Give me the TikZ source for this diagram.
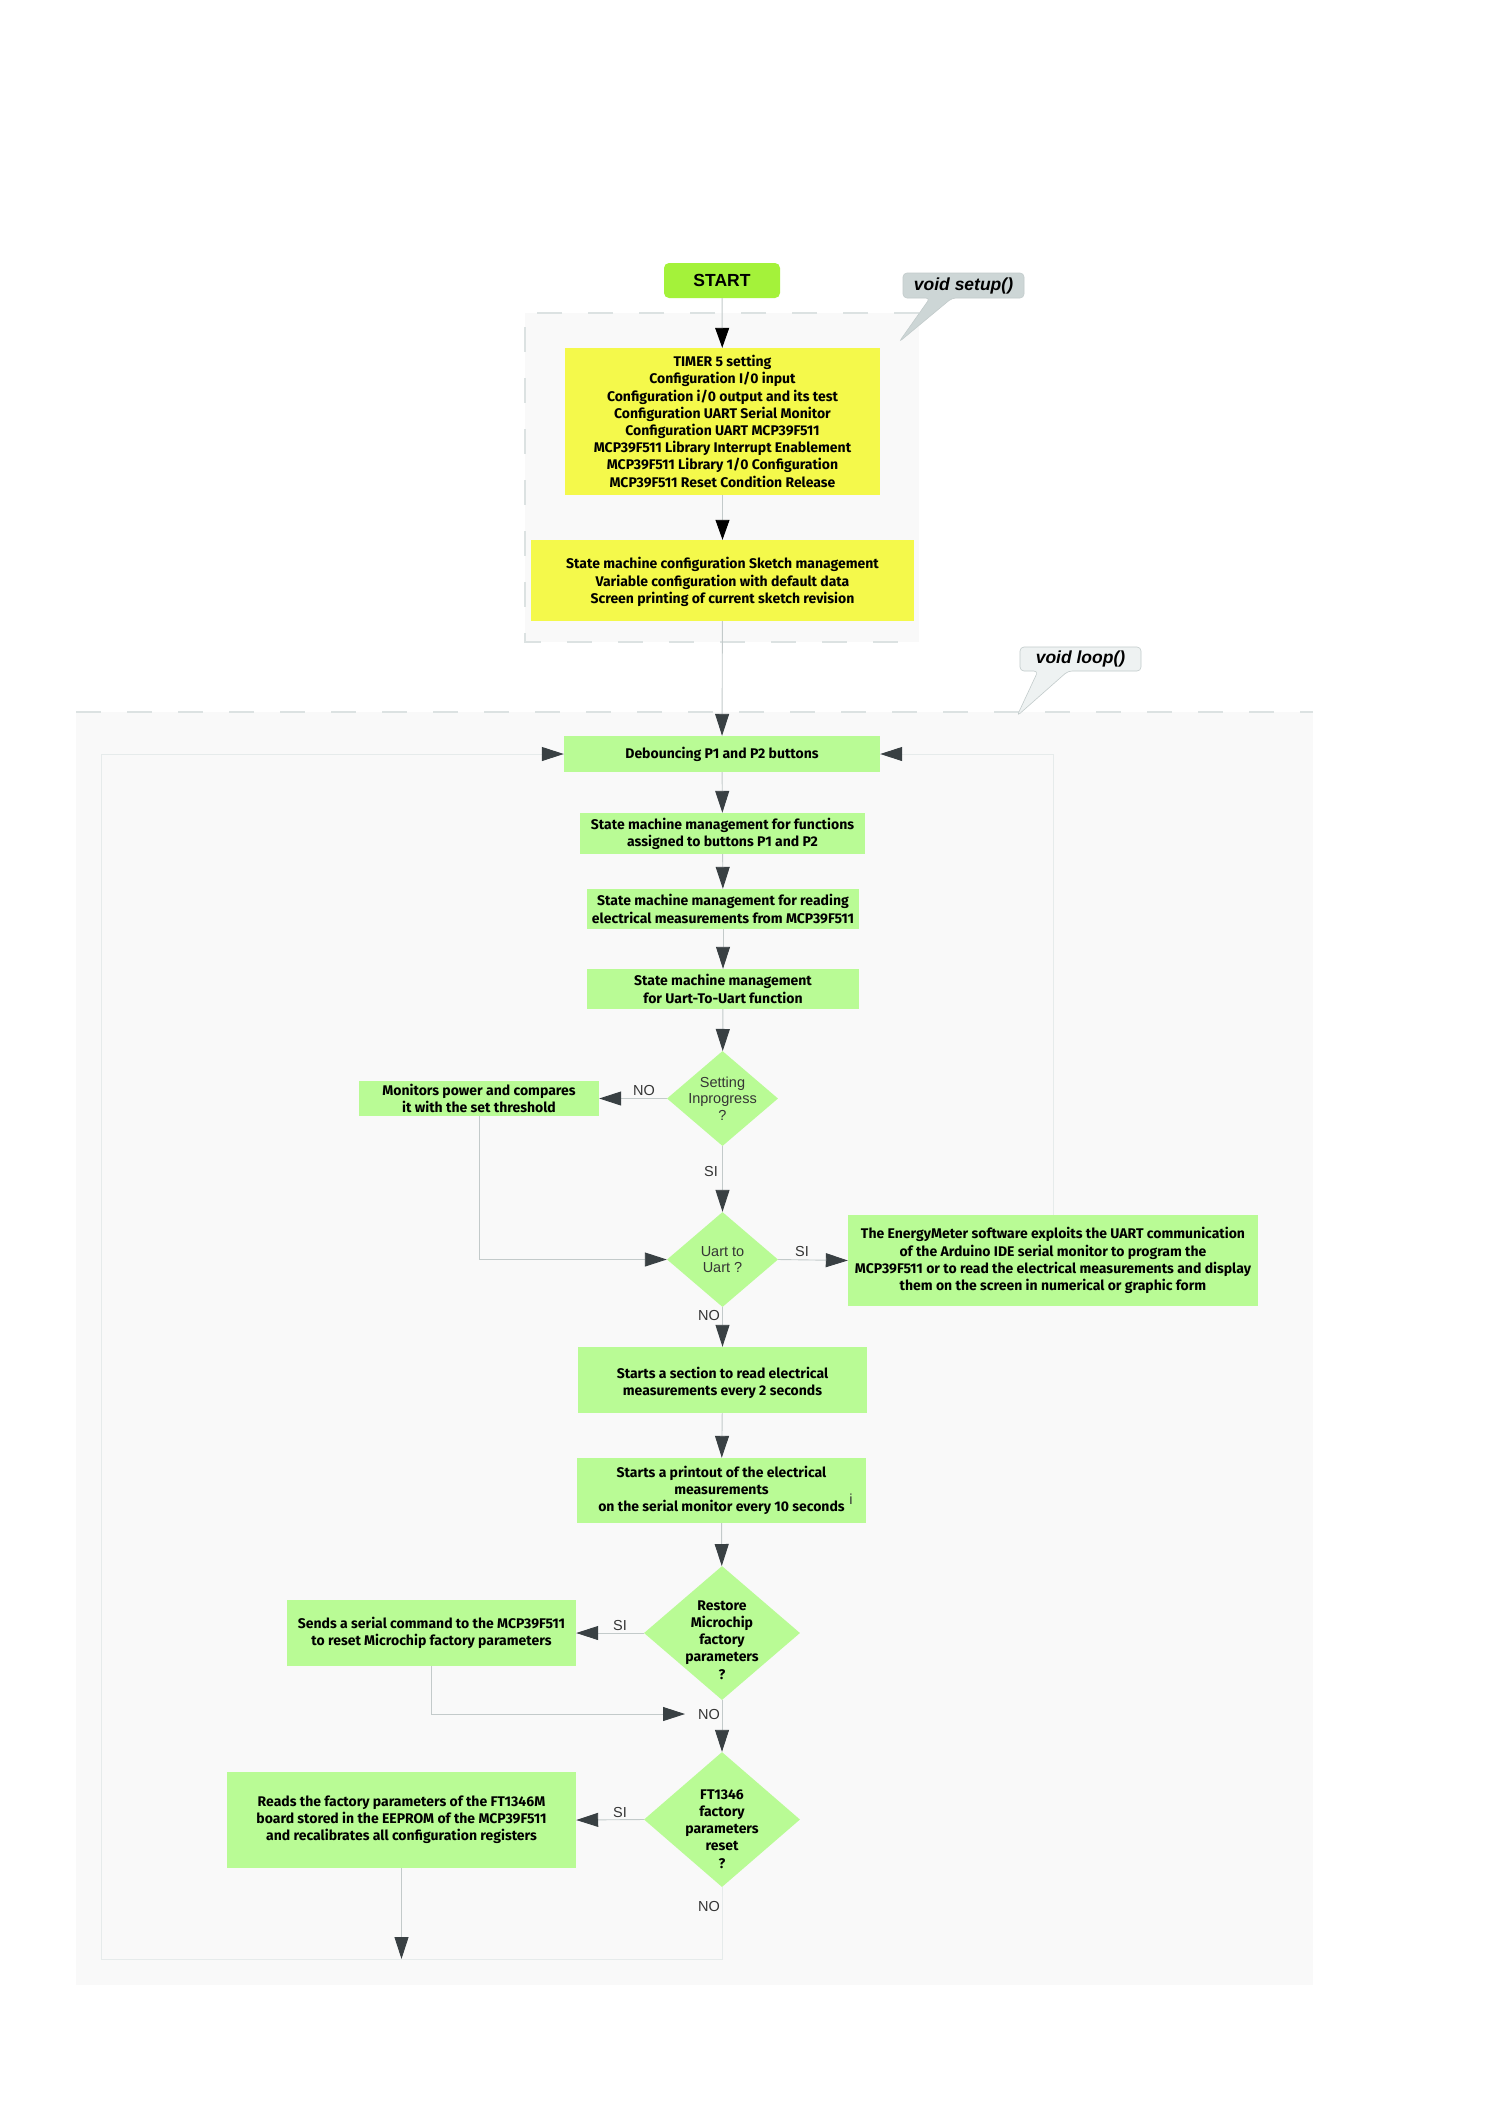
\documentclass[tikz,border=0pt]{standalone}
\usepackage{fontspec}
\setmainfont{Liberation Sans}
\newfontfamily\boxfam{Fira Sans}
\usetikzlibrary{arrows.meta,shapes.geometric}
\definecolor{startgreen}{HTML}{A4F23A}
\definecolor{boxyellow}{HTML}{F4F94B}
\definecolor{boxgreen}{HTML}{B9FB95}
\definecolor{contfill}{HTML}{F9F9F9}
\definecolor{dashgrey}{HTML}{DCE2E2}
\definecolor{connline}{HTML}{C3CACA}
\definecolor{loopline}{HTML}{E6EBEB}
\definecolor{tipdark}{HTML}{394043}
\definecolor{labgrey}{HTML}{353535}
\definecolor{calloutA}{HTML}{CDD6D6}
\definecolor{calloutB}{HTML}{EEF2F2}
\definecolor{calloutedge}{HTML}{C2CBCB}
\newcommand{\boxtext}{\boxfam\bfseries\fontsize{14}{17.2}\selectfont}
\newcommand{\labtext}{\fontsize{14.5}{16.5}\selectfont\color{labgrey}}
\tikzset{
  rbox/.style={rectangle, inner sep=0pt, align=center, font=\boxtext, text=black},
  gbox/.style={rbox, fill=boxgreen},
  ybox/.style={rbox, fill=boxyellow},
  decbox/.style={diamond, fill=boxgreen, inner sep=0pt},
  dectext/.style={inner sep=0pt, align=center, font=\boxtext},
  declab/.style={inner sep=0pt, align=center, font=\labtext},
  edgelab/.style={inner sep=0pt, font=\labtext},
  conn/.style={draw=connline, line width=0.9pt, -{Triangle[width=14pt,length=22pt,color=tipdark]}},
  sconn/.style={draw=connline, line width=0.9pt, -{Triangle[width=14pt,length=20pt,color=black]}},
  loopconn/.style={draw=loopline, line width=1pt},
}
\begin{document}
\begin{tikzpicture}[x=1pt,y=-1pt]
\useasboundingbox[fill=white] (0,0) rectangle (1500,2122);
% containers
\fill[contfill] (525,313) rectangle (919,642);
\draw[dashgrey, line width=1.2pt, dash pattern=on 25pt off 26pt] (919,313) -- (525,313) -- (525,642) -- (919,642);
\fill[contfill] (76,712) rectangle (1313,1985);
\draw[dashgrey, line width=1.2pt, dash pattern=on 25pt off 26pt] (76,712) -- (1313,712);
% callouts
\filldraw[fill=calloutA, draw=calloutedge, line width=0.6pt, rounded corners=4pt]
  (903,273) -- (1024,273) -- (1024,298) -- (952,298) -- (899,342) -- (930,298) -- (903,298) -- cycle;
\node[inner sep=0pt, font=\bfseries\itshape\fontsize{17.5}{20}\selectfont] (setupT) at (963.5,285.5) {void setup()};
\filldraw[fill=calloutB, draw=calloutedge, line width=0.6pt, rounded corners=4pt]
  (1020,647) -- (1141,647) -- (1141,671) -- (1068,671) -- (1017,716) -- (1038,671) -- (1020,671) -- cycle;
\node[inner sep=0pt, font=\bfseries\itshape\fontsize{17.5}{20}\selectfont] (loopT) at (1080.5,659) {void loop()};
% nodes
\node[rbox, fill=startgreen, rounded corners=5pt, minimum width=116, minimum height=35, font=\bfseries\fontsize{17.5}{20}\selectfont] (start) at (722,280.5) {START};
\node[ybox, minimum width=315, minimum height=147] (timer) at (722.5,421.5) {TIMER 5 setting\\Configuration I/0 input\\Configuration i/0 output and its test\\Configuration UART Serial Monitor\\Configuration UART MCP39F511\\MCP39F511 Library Interrupt Enablement\\MCP39F511 Library 1/0 Configuration\\MCP39F511 Reset Condition Release};
\node[ybox, minimum width=383, minimum height=81, text depth=-4pt] (cfg) at (722.5,580.5) {State machine configuration Sketch management\\Variable configuration with default data\\Screen printing of current sketch revision};
\node[gbox, minimum width=316, minimum height=36] (deb) at (722,754) {Debouncing P1 and P2 buttons};
\node[gbox, minimum width=285, minimum height=41] (b2) at (722.5,833.5) {State machine management for functions\\assigned to buttons P1 and P2};
\node[gbox, minimum width=272, minimum height=40] (b3) at (723,909) {State machine management for reading\\electrical measurements from MCP39F511};
\node[gbox, minimum width=272, minimum height=40] (b4) at (723,989) {State machine management\\for Uart-To-Uart function};
\node[decbox, minimum width=111, minimum height=95] (setting) at (722.5,1098.5) {};
\node[declab] (settingT) at (setting.center) {Setting\\Inprogress\\?};
\node[gbox, minimum width=240, minimum height=35] (mon) at (479,1098.5) {Monitors power and compares\\it with the set threshold};
\node[decbox, minimum width=111, minimum height=95] (uart) at (722.5,1259.5) {};
\node[declab] (uartT) at (uart.center) {Uart to\\Uart ?};
\node[gbox, minimum width=410, minimum height=91] (em) at (1053,1260.5) {The EnergyMeter software exploits the UART communication\\of the Arduino IDE serial monitor to program the\\MCP39F511 or to read the electrical measurements and display\\them on the screen in numerical or graphic form};
\node[gbox, minimum width=289, minimum height=66] (sec) at (722.5,1380) {};
\node[dectext] (secT) at (722.5,1382.5) {Starts a section to read electrical\\measurements every 2 seconds};
\node[gbox, minimum width=289, minimum height=65] (prt) at (721.5,1490.5) {Starts a printout of the electrical\\measurements\\on the serial monitor every 10 seconds};
\node[edgelab] (prtI) at (851,1499) {i};
\node[decbox, minimum width=156, minimum height=134] (restore) at (722,1633) {};
\node[dectext] (restoreT) at (722,1640) {Restore\\Microchip\\factory\\parameters\\?};
\node[gbox, minimum width=289, minimum height=66] (sends) at (431.5,1633) {Sends a serial command to the MCP39F511\\to reset Microchip factory parameters};
\node[decbox, minimum width=156, minimum height=135] (ft) at (722,1819.5) {};
\node[dectext] (ftT) at (722,1829) {FT1346\\factory\\parameters\\reset\\?};
\node[gbox, minimum width=349, minimum height=96] (reads) at (401.5,1820) {Reads the factory parameters of the FT1346M\\board stored in the EEPROM of the MCP39F511\\and recalibrates all configuration registers};
% coordinates
\coordinate (j1) at (685,1714);
\coordinate (rb) at (722,1959);
\coordinate (lb) at (101,1959);
\coordinate (lt) at (101,754);
\coordinate (rdb) at (401.5,1959);
% loop lines
\draw[loopconn, -{Triangle[width=14pt,length=22pt,color=tipdark]}] (ft.south) -- (rb) -- (lb) -- (lt) -- (deb.west);
\draw[loopconn, -{Triangle[width=14pt,length=22pt,color=tipdark]}] (em.north) |- (deb.east);
% connectors
\draw[sconn] (start) -- (timer);
\draw[sconn] (timer) -- (cfg);
\draw[conn] (cfg) -- (deb);
\draw[conn] (deb) -- (b2);
\draw[conn] (b2) -- (b3);
\draw[conn] (b3) -- (b4);
\draw[conn] (b4) -- (setting);
\draw[conn] (setting.west) -- (mon.east);
\draw[conn] (setting.south) -- (uart.north);
\draw[conn] (mon.south) |- (uart.west);
\draw[conn] (uart.east) -- (em.west);
\draw[conn] (uart.south) -- (sec.north);
\draw[conn] (sec) -- (prt);
\draw[conn] (prt) -- (restore);
\draw[conn] (restore.west) -- (sends.east);
\draw[conn] (restore.south) -- (ft.north);
\draw[conn] (sends.south) |- (j1);
\draw[conn] (ft.west) -- (reads.east);
\draw[conn] (reads.south) -- (rdb);
% edge labels
\node[edgelab] (l1) at (644,1090) {NO};
\node[edgelab] (l2) at (711,1171) {SI};
\node[edgelab] (l3) at (802,1251) {SI};
\node[edgelab] (l4) at (709,1315) {NO};
\node[edgelab] (l5) at (620,1625) {SI};
\node[edgelab] (l6) at (709,1714) {NO};
\node[edgelab] (l7) at (620,1812) {SI};
\node[edgelab] (l8) at (709,1906) {NO};
\end{tikzpicture}
\end{document}
